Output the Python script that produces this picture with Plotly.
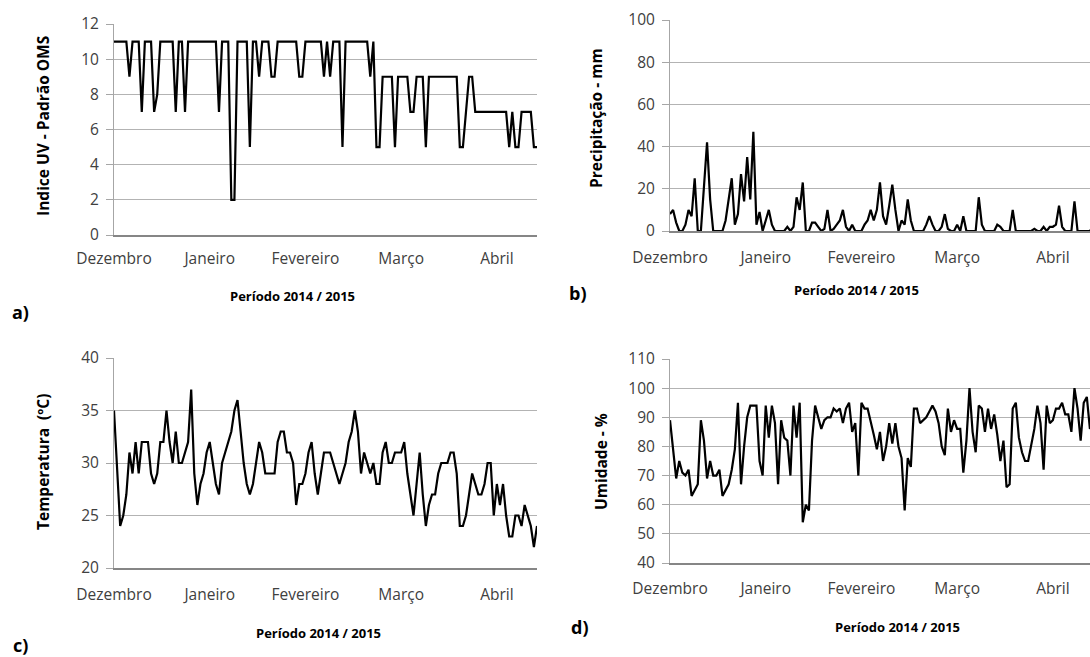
import plotly.graph_objects as go

months = ["Dezembro", "Janeiro", "Fevereiro", "Março", "Abril"]
month_pos = [0, 31, 62, 93, 124]

uv = [11, 11, 11, 11, 11, 9, 11, 11, 11, 7,
      11, 11, 11, 7, 8, 11, 11, 11, 11, 11,
      7, 11, 11, 7, 11, 11, 11, 11, 11, 11,
      11, 11, 11, 11, 7, 11, 11, 11, 2, 2,
      11, 11, 11, 11, 5, 11, 11, 9, 11, 11,
      11, 9, 9, 11, 11, 11, 11, 11, 11, 11,
      9, 9, 11, 11, 11, 11, 11, 11, 9, 11,
      9, 11, 11, 11, 5, 11, 11, 11, 11, 11,
      11, 11, 11, 9, 11, 5, 5, 9, 9, 9,
      9, 5, 9, 9, 9, 9, 7, 7, 9, 9,
      9, 5, 9, 9, 9, 9, 9, 9, 9, 9,
      9, 9, 5, 5, 7, 9, 9, 7, 7, 7,
      7, 7, 7, 7, 7, 7, 7, 7, 5, 7,
      5, 5, 7, 7, 7, 7, 5, 5]

precip = [8, 10, 4, 0, 0, 3, 10, 7, 25, 0,
          0, 20, 42, 15, 0, 0, 0, 0, 5, 15,
          25, 3, 8, 27, 14, 35, 15, 47, 3, 9,
          0, 5, 10, 3, 0, 0, 0, 0, 2, 0,
          2, 16, 10, 23, 0, 0, 4, 4, 2, 0,
          1, 10, 0, 1, 3, 5, 10, 2, 0, 3,
          0, 0, 0, 3, 5, 10, 5, 10, 23, 7,
          3, 12, 22, 10, 0, 5, 3, 15, 5, 0,
          0, 0, 0, 3, 7, 3, 0, 0, 2, 8,
          1, 0, 0, 3, 0, 7, 0, 0, 0, 0,
          16, 3, 0, 0, 0, 0, 3, 2, 0, 0,
          0, 10, 0, 0, 0, 0, 0, 0, 1, 0,
          0, 2, 0, 2, 2, 3, 12, 2, 0, 0,
          0, 14, 0, 0, 0, 0, 0, 2]

temp = [35, 29, 24, 25, 27, 31, 29, 32, 29, 32,
        32, 32, 29, 28, 29, 32, 32, 35, 32, 30,
        33, 30, 30, 31, 32, 37, 29, 26, 28, 29,
        31, 32, 30, 28, 27, 30, 31, 32, 33, 35,
        36, 33, 30, 28, 27, 28, 30, 32, 31, 29,
        29, 29, 29, 32, 33, 33, 31, 31, 30, 26,
        28, 28, 29, 31, 32, 29, 27, 29, 31, 31,
        31, 30, 29, 28, 29, 30, 32, 33, 35, 33,
        29, 31, 30, 29, 30, 28, 28, 31, 32, 30,
        30, 31, 31, 31, 32, 29, 27, 25, 28, 31,
        27, 24, 26, 27, 27, 29, 30, 30, 30, 31,
        31, 29, 24, 24, 25, 27, 29, 28, 27, 27,
        28, 30, 30, 25, 28, 26, 28, 25, 23, 23,
        25, 25, 24, 26, 25, 24, 22, 24]

umid = [89, 79, 69, 75, 71, 70, 72, 63, 65, 67,
        89, 82, 69, 75, 70, 70, 72, 63, 65, 67,
        72, 79, 95, 67, 80, 90, 94, 94, 94, 75,
        70, 94, 83, 94, 88, 67, 89, 83, 82, 70,
        94, 83, 95, 54, 60, 58, 82, 94, 90, 86,
        89, 90, 90, 93, 92, 93, 88, 93, 95, 85,
        88, 70, 95, 93, 93, 89, 84, 79, 85, 75,
        80, 88, 81, 88, 80, 76, 58, 76, 73, 93,
        93, 88, 89, 90, 92, 94, 92, 88, 80, 77,
        93, 85, 89, 86, 86, 71, 82, 100, 85, 78,
        94, 93, 85, 93, 86, 91, 84, 75, 82, 66,
        67, 93, 95, 83, 78, 75, 75, 80, 86, 94,
        88, 72, 94, 88, 89, 93, 93, 95, 91, 91,
        85, 100, 93, 82, 95, 97, 86, 90]

W, H = 1090, 657
FONT = "Open Sans"


def px(x):
    return x / W


def py(y):
    return 1 - y / H


panels = [
    dict(data=uv, xd=(114, 537), yd=(24, 235), yr=(0, 12), dt=2, xr=(0, 137), so=9),
    dict(data=precip, xd=(670, 1090), yd=(20, 231), yr=(0, 100), dt=20, xr=(0, 137 * 420 / 423), so=12),
    dict(data=temp, xd=(114, 537), yd=(358, 568), yr=(20, 40), dt=5, xr=(0, 137), so=12),
    dict(data=umid, xd=(670, 1090), yd=(359, 563), yr=(40, 110), dt=10, xr=(0, 137 * 420 / 423), so=11),
]

fig = go.Figure()
layout = {}
for k, p in enumerate(panels):
    n = "" if k == 0 else str(k + 1)
    fig.add_trace(go.Scatter(
        x=list(range(len(p["data"]))), y=p["data"], mode="lines",
        line=dict(color="black", width=2.2), xaxis="x" + n, yaxis="y" + n,
        showlegend=False, cliponaxis=True))
    layout["xaxis" + n] = dict(
        domain=[px(p["xd"][0]), px(p["xd"][1])], range=list(p["xr"]),
        anchor="y" + n, tickmode="array", tickvals=month_pos, ticktext=months,
        showgrid=False, zeroline=False, showline=True, linecolor="#868686",
        linewidth=1.5, ticks="", ticklabelstandoff=p["so"], automargin=False,
        tickfont=dict(family=FONT, size=15.5, color="#404040"))
    layout["yaxis" + n] = dict(
        domain=[py(p["yd"][1]), py(p["yd"][0])], range=list(p["yr"]),
        anchor="x" + n, dtick=p["dt"], tick0=p["yr"][0], showgrid=True,
        gridcolor="#b3b3b3", gridwidth=1, zeroline=False, showline=True,
        linecolor="#a6a6a6", linewidth=1, ticks="outside", ticklen=7,
        tickcolor="#a6a6a6", ticklabelstandoff=4, automargin=False,
        tickfont=dict(family=FONT, size=15.5, color="#404040"))

ann = []
ytitles = [("Indice UV - Padrão OMS", 43, 126), ("Precipitação - mm", 596, 118),
           ("Temperatura  (ºC)", 43, 462), ("Umidade - %", 601, 462)]
for t, x, y in ytitles:
    ann.append(dict(text="<b>" + t + "</b>", x=px(x), y=py(y), xref="paper", yref="paper",
                    showarrow=False, textangle=-90, xanchor="center", yanchor="middle",
                    font=dict(family=FONT, size=15.5, color="black")))
periods = [(292, 296), (856, 290), (318, 633), (897, 627)]
for x, y in periods:
    ann.append(dict(text="<b>Período 2014 / 2015</b>", x=px(x), y=py(y), xref="paper",
                    yref="paper", showarrow=False, xanchor="center", yanchor="middle",
                    font=dict(family=FONT, size=13, color="black")))
labels = [("a)", 20, 312), ("b)", 578, 293), ("c)", 20, 645), ("d)", 580, 627)]
for t, x, y in labels:
    ann.append(dict(text="<b>" + t + "</b>", x=px(x), y=py(y), xref="paper", yref="paper",
                    showarrow=False, xanchor="center", yanchor="middle",
                    font=dict(family=FONT, size=18, color="black")))

fig.update_layout(width=W, height=H, margin=dict(l=0, r=0, t=0, b=0, autoexpand=False),
                  paper_bgcolor="white", plot_bgcolor="white",
                  annotations=ann, **layout)
fig.write_html("out.html")
